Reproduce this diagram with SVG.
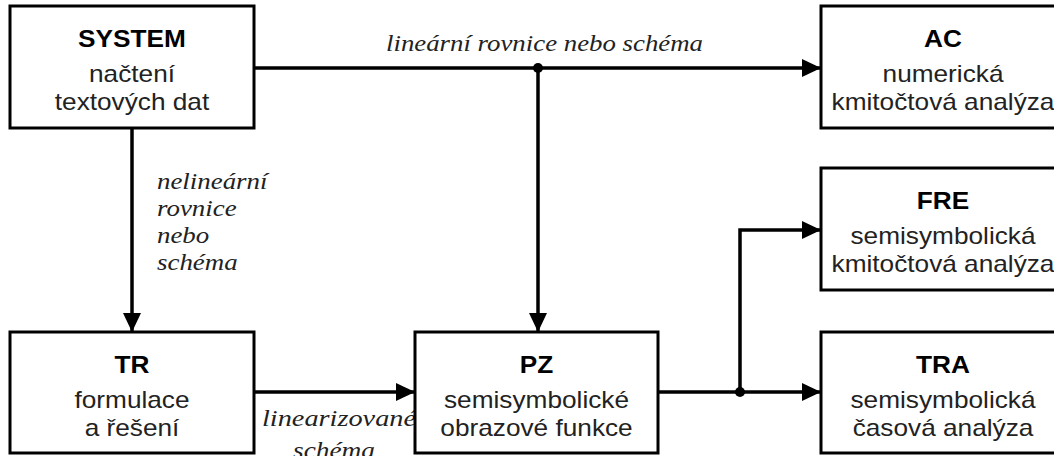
<svg xmlns="http://www.w3.org/2000/svg" width="1054" height="456" viewBox="0 0 1054 456">
<style>
.box{fill:#fff;stroke:#000;stroke-width:3}
.t{font-family:"Liberation Sans",Arial,sans-serif;font-size:23px;fill:#222;text-anchor:middle}
.b{font-weight:bold;fill:#000}
.l{font-family:"Liberation Serif","Times New Roman",serif;font-style:italic;font-size:24px;fill:#222}
.c{fill:none;stroke:#000;stroke-width:3.5}
</style>
<defs>
<marker id="ah" markerUnits="userSpaceOnUse" markerWidth="20" markerHeight="20" refX="19" refY="9" orient="auto">
<path d="M0,0 L19,9 L0,18 z" fill="#000"/>
</marker>
</defs>
<rect width="1054" height="456" fill="#fff"/>
<g id="connectors">
<path class="c" d="M254,68 H821" marker-end="url(#ah)"/>
<path class="c" d="M538,68 V332" marker-end="url(#ah)"/>
<path class="c" d="M132,129 V332" marker-end="url(#ah)"/>
<path class="c" d="M254,392 H415" marker-end="url(#ah)"/>
<path class="c" d="M658,392 H821" marker-end="url(#ah)"/>
<path class="c" d="M740,392 V230 H821" marker-end="url(#ah)"/>
<circle cx="538" cy="68" r="5" fill="#000"/>
<circle cx="740" cy="392" r="5" fill="#000"/>
<text class="l" x="386" y="51" textLength="317" lengthAdjust="spacingAndGlyphs">lineární rovnice nebo schéma</text>
<text class="l" transform="translate(157,189) scale(1.12,1)">nelineární</text>
<text class="l" transform="translate(157,216) scale(1.12,1)">rovnice</text>
<text class="l" transform="translate(157,243) scale(1.12,1)">nebo</text>
<text class="l" transform="translate(157,270) scale(1.12,1)">schéma</text>
<text class="l" x="262" y="426" textLength="154" lengthAdjust="spacingAndGlyphs">linearizované</text>
<text class="l" x="293" y="458" textLength="82" lengthAdjust="spacingAndGlyphs">schéma</text>
</g>
<g id="SYSTEM">
<rect class="box" x="10" y="6" width="244" height="122"/>
<text class="t b" transform="translate(132,47) scale(1.14,1)">SYSTEM</text>
<text class="t" transform="translate(132,82) scale(1.14,1)">načtení</text>
<text class="t" transform="translate(132,110) scale(1.14,1)">textových dat</text>
</g>
<g id="AC">
<rect class="box" x="821" y="6" width="244" height="122"/>
<text class="t b" transform="translate(943,47) scale(1.14,1)">AC</text>
<text class="t" transform="translate(943,82) scale(1.14,1)">numerická</text>
<text class="t" transform="translate(943,110) scale(1.14,1)">kmitočtová analýza</text>
</g>
<g id="FRE">
<rect class="box" x="821" y="168" width="244" height="122"/>
<text class="t b" transform="translate(943,209) scale(1.14,1)">FRE</text>
<text class="t" transform="translate(943,244) scale(1.14,1)">semisymbolická</text>
<text class="t" transform="translate(943,272) scale(1.14,1)">kmitočtová analýza</text>
</g>
<g id="TR">
<rect class="box" x="10" y="332" width="244" height="121"/>
<text class="t b" transform="translate(132,373) scale(1.14,1)">TR</text>
<text class="t" transform="translate(132,408) scale(1.14,1)">formulace</text>
<text class="t" transform="translate(132,436) scale(1.14,1)">a řešení</text>
</g>
<g id="PZ">
<rect class="box" x="415" y="332" width="243" height="121"/>
<text class="t b" transform="translate(536.5,373) scale(1.14,1)">PZ</text>
<text class="t" transform="translate(536.5,408) scale(1.14,1)">semisymbolické</text>
<text class="t" transform="translate(536.5,436) scale(1.14,1)">obrazové funkce</text>
</g>
<g id="TRA">
<rect class="box" x="821" y="332" width="244" height="121"/>
<text class="t b" transform="translate(943,373) scale(1.14,1)">TRA</text>
<text class="t" transform="translate(943,408) scale(1.14,1)">semisymbolická</text>
<text class="t" transform="translate(943,436) scale(1.14,1)">časová analýza</text>
</g>
</svg>
